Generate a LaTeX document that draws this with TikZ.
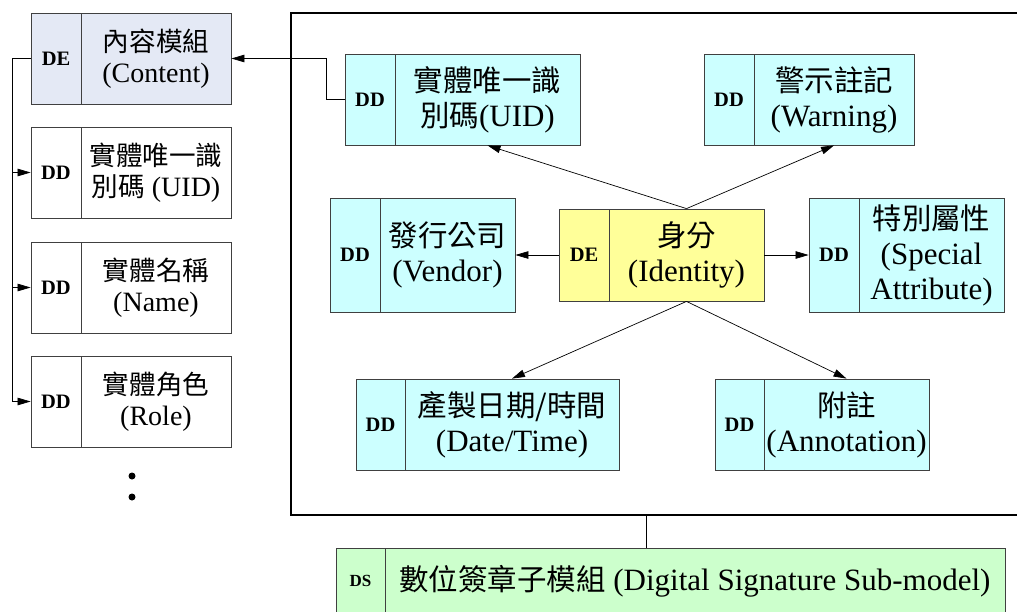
\documentclass[tikz,border=0pt]{standalone}
\usepackage{fontspec}
\setmainfont{Liberation Serif}
\newfontfamily\cjk[Scale=0.95]{Noto Sans CJK TC}
\usetikzlibrary{arrows.meta}

\definecolor{ddcyan}{RGB}{204,255,255}
\definecolor{deyellow}{RGB}{255,255,153}
\definecolor{dsgreen}{RGB}{204,255,204}
\definecolor{contentblue}{RGB}{228,233,245}
\definecolor{edgegray}{RGB}{64,64,64}

% text sizes (1pt = 1 unit of the drawing)
\newcommand\bigtxt{\fontsize{31}{35}\selectfont}
\newcommand\midtxt{\fontsize{28}{31}\selectfont}
\newcommand\lbl{\fontsize{20.5}{23}\selectfont\bfseries}

\tikzset{
  partbox/.style={draw=edgegray, line width=0.8pt, inner sep=0pt, align=center},
  arr/.style={-{Triangle[length=13pt,width=7.5pt]}, line width=0.7pt},
  link/.style={line width=0.7pt},
  frameline/.style={draw, line width=1.8pt, inner sep=0pt},
  dotmark/.style={circle, fill, inner sep=0pt, minimum size=7pt},
}

% two-part element box: name, x-left, x-divider, x-right, y-top, y-bottom,
% style, tag, caption
\newcommand\mkbox[9]{%
  \pgfmathsetmacro\bxa{#3-#2}%
  \pgfmathsetmacro\bxb{#4-#3}%
  \pgfmathsetmacro\bxh{#6-#5}%
  \pgfmathsetmacro\bxc{(#2+#3)/2}%
  \pgfmathsetmacro\bxd{(#3+#4)/2}%
  \pgfmathsetmacro\bxm{(#5+#6)/2}%
  \node[partbox,#7,font=\lbl,minimum width=\bxa pt,minimum height=\bxh pt] (#1L) at (\bxc,\bxm) {#8};
  \node[partbox,#7,minimum width=\bxb pt,minimum height=\bxh pt] (#1T) at (\bxd,\bxm) {#9};
}

\begin{document}
\begin{tikzpicture}[x=1pt,y=-1pt]
\useasboundingbox (0,0) rectangle (1017,611);
\clip (0,0) rectangle (1017,611);

% identity sub-model frame
\node[frameline, minimum width=749pt, minimum height=502pt] (frame) at (665.5,264) {};

% content module column
\mkbox{content}{31}{81}{231}{13}{104}{fill=contentblue,font=\midtxt}{DE}{{\cjk 內容模組}\\(Content)}
\mkbox{luid}{31}{81}{231}{127}{218}{fill=white,font=\midtxt}{DD}{{\cjk 實體唯一識}\\{\cjk 別碼} (UID)}
\mkbox{lname}{31}{81}{231}{242}{333}{fill=white,font=\midtxt}{DD}{{\cjk 實體名稱}\\(Name)}
\mkbox{lrole}{31}{81}{231}{356}{447}{fill=white,font=\midtxt}{DD}{{\cjk 實體角色}\\(Role)}
\node[dotmark] (dota) at (132,476) {};
\node[dotmark] (dotb) at (132,497) {};

% identity elements
\mkbox{tuid}{345}{395}{580}{54}{145}{fill=ddcyan,font=\bigtxt}{DD}{{\cjk 實體唯一識}\\{\cjk 別碼}(UID)}
\mkbox{warn}{704}{754}{914}{54}{145}{fill=ddcyan,font=\bigtxt}{DD}{{\cjk 警示註記}\\(Warning)}
\mkbox{vendor}{330}{380}{515}{198}{312}{fill=ddcyan,font=\bigtxt}{DD}{{\cjk 發行公司}\\(Vendor)}
\mkbox{ident}{559}{609}{764}{209}{301}{fill=deyellow,font=\bigtxt}{DE}{{\cjk 身分}\\(Identity)}
\mkbox{special}{809}{859}{1004}{198}{312}{fill=ddcyan,font=\bigtxt}{DD}{{\cjk 特別屬性}\\(Special\\Attribute)}
\mkbox{date}{356}{405}{619}{379}{470}{fill=ddcyan,font=\bigtxt}{DD}{{\cjk 產製日期/時間}\\(Date/Time)}
\mkbox{annot}{715}{764}{929}{379}{470}{fill=ddcyan,font=\bigtxt}{DD}{{\cjk 附註}\\(Annotation)}

% digital signature sub-model
\mkbox{ds}{336}{385}{1005}{548}{614}{fill=dsgreen,font=\bigtxt}{\fontsize{17}{19}\selectfont DS}{{\cjk 數位簽章子模組} (Digital Signature Sub-model)}

% connectors
\coordinate (spine) at (12,0);
\coordinate (tap) at (646,515);
\draw[link] (contentL.west) -- (contentL.west -| spine) -- (spine |- lroleL.west);
\draw[arr] (spine |- luidL.west) -- (luidL.west);
\draw[arr] (spine |- lnameL.west) -- (lnameL.west);
\draw[arr] (spine |- lroleL.west) -- (lroleL.west);

\draw[arr] (tuidL.west) -- ++(-18,0) |- (contentT.east);

\draw[arr] (identL.west) -- (vendorT.east);
\draw[arr] (identT.east) -- (specialL.west);
\draw[arr] (identT.north) -- (tuidT.south);
\draw[arr] (identT.north) -- (warnT.south);
\draw[arr] (identT.south) -- (dateT.north);
\draw[arr] (identT.south) -- (annotT.north);

\draw[link] (tap) -- (tap |- dsT.north);
\end{tikzpicture}
\end{document}
